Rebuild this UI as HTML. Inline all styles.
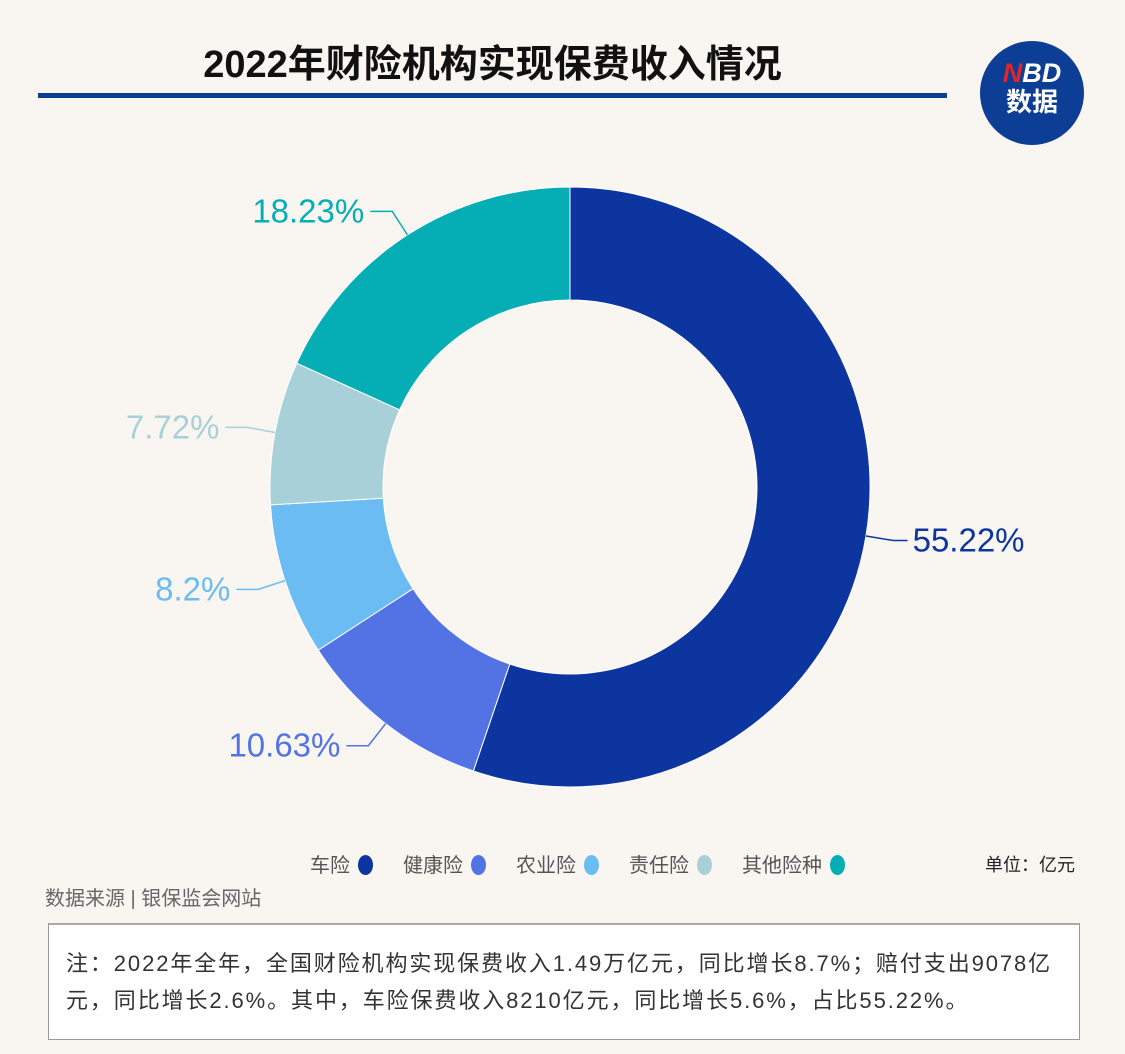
<!DOCTYPE html>
<html><head><meta charset="utf-8"><style>
body{margin:0;width:1125px;height:1054px;background:#f9f6f2;font-family:"Liberation Sans","Noto Sans CJK SC",sans-serif;position:relative;overflow:hidden}
.abs{position:absolute}
</style></head><body>
<div class="abs" style="left:0;width:985px;top:33px;text-align:center;font-size:38px;font-weight:bold;color:#111">2022年财险机构实现保费收入情况</div>
<div class="abs" style="left:38px;top:93px;width:909px;height:5px;background:#0b3d91"></div>
<div class="abs" style="left:980px;top:41px;width:104px;height:104px;border-radius:50%;background:#0d3e95;color:#fff;text-align:center;font-weight:bold">
<div style="font-size:27px;font-style:italic;margin-top:18px;line-height:28px"><span style="color:#e0262b">N</span>BD</div>
<div style="font-size:26px;line-height:30px">数据</div></div>
<svg class="abs" style="left:0;top:0" width="1125" height="840"><g id="g"></g></svg>
<div class="abs" style="left:310px;top:849px;font-size:20px;color:#555;white-space:nowrap" id="legend"></div>
<div class="abs" style="left:985px;top:851px;font-size:18px;color:#222">单位：亿元</div>
<div class="abs" style="left:45px;top:882px;font-size:20px;color:#666">数据来源 | 银保监会网站</div>
<div class="abs" style="left:48px;top:923px;width:1032px;height:117px;background:#fff;border:1px solid #999;border-top:2px solid #aaa;box-sizing:border-box;font-size:22px;letter-spacing:1.9px;color:#333;line-height:37px;padding:20px 0 0 17px;white-space:nowrap">注：2022年全年，全国财险机构实现保费收入1.49万亿元，同比增长8.7%；赔付支出9078亿<br>元，同比增长2.6%。其中，车险保费收入8210亿元，同比增长5.6%，占比55.22%。</div>
<script>
const categories=["车险","健康险","农业险","责任险","其他险种"];
const shares=[55.22,10.63,8.2,7.72,18.23];
const labels=["55.22%","10.63%","8.2%","7.72%","18.23%"];
const colors=["#0d35a0","#5372e4","#6bbcf2","#a8d0d8","#05adb5"];
const cx=570,cy=487,R=300,r=187,NS="http://www.w3.org/2000/svg";
const g=document.getElementById('g');
const tot=shares.reduce((a,b)=>a+b,0);
function pt(a,rad){return [cx+rad*Math.sin(a),cy-rad*Math.cos(a)];}
let acc=0;
shares.forEach((v,i)=>{
 const a0=acc/tot*2*Math.PI;acc+=v;const a1=acc/tot*2*Math.PI;
 const lg=(a1-a0)>Math.PI?1:0;
 const [x0,y0]=pt(a0,R),[x1,y1]=pt(a1,R),[x2,y2]=pt(a1,r),[x3,y3]=pt(a0,r);
 const p=document.createElementNS(NS,'path');
 p.setAttribute('d',`M${x0},${y0}A${R},${R} 0 ${lg} 1 ${x1},${y1}L${x2},${y2}A${r},${r} 0 ${lg} 0 ${x3},${y3}Z`);
 p.setAttribute('fill',colors[i]);p.setAttribute('stroke','#fff');p.setAttribute('stroke-width','1');
 
 
 g.appendChild(p);
 const am=(a0+a1)/2;const [ax,ay]=pt(am,R);const [bx,by]=pt(am,328);
 const right=Math.sin(am)>=0;const ex=bx+(right?14:-22);
 const l=document.createElementNS(NS,'polyline');
 l.setAttribute('points',`${ax},${ay} ${bx},${by} ${ex},${by}`);
 l.setAttribute('fill','none');l.setAttribute('stroke',colors[i]);l.setAttribute('stroke-width','1.5');
 
 
 g.appendChild(l);
 const t=document.createElementNS(NS,'text');
 t.setAttribute('x',right?ex+5:ex-6);t.setAttribute('y',by+11);
 t.setAttribute('text-anchor',right?'start':'end');t.setAttribute('font-size','33');
 t.setAttribute('fill',colors[i]);t.setAttribute('font-family','"Liberation Sans",sans-serif');
 t.textContent=labels[i];
 
 
 g.appendChild(t);
});
const lgd=document.getElementById('legend');
categories.forEach((c,i)=>{
 const s=document.createElement('span');
 s.style.marginRight='30px';
 s.innerHTML=c+'<span style="display:inline-block;width:15px;height:20px;border-radius:50%;background:'+colors[i]+';vertical-align:-3px;margin-left:8px"></span>';
 
 
 lgd.appendChild(s);
});
</script>
</body></html>
